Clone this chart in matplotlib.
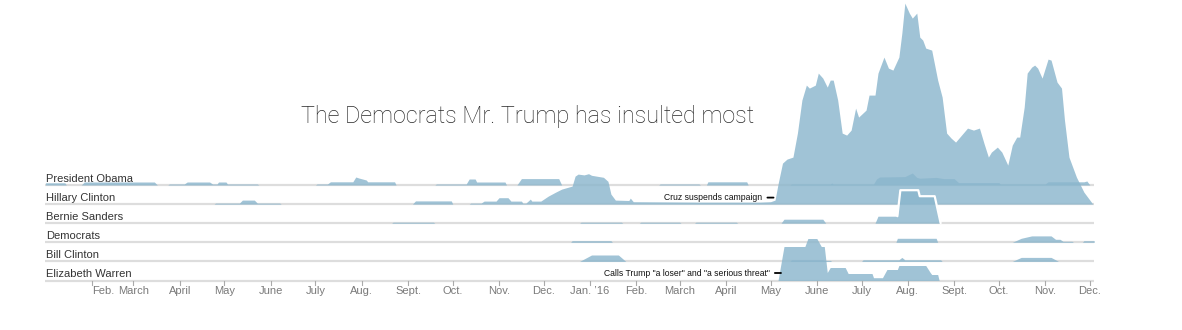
import matplotlib
matplotlib.use("Agg")
import matplotlib.pyplot as plt
import matplotlib.dates as mdates
import matplotlib.transforms as mtransforms
import pandas as pd
import numpy as np

plt.rcParams['font.family'] = ['Liberation Sans', 'DejaVu Sans']

# ---------------- data (insults, smoothed) ----------------
names = ["President Obama", "Hillary Clinton", "Bernie Sanders",
         "Democrats", "Bill Clinton", "Elizabeth Warren"]

obama = [("2015-01-01", 0.55), ("2015-01-14", 0.55), ("2015-01-15", 0), ("2015-01-25", 0),
         ("2015-01-27", 0.75), ("2015-03-15", 0.75), ("2015-03-17", 0), ("2015-03-24", 0),
         ("2015-03-25", 0.25), ("2015-04-04", 0.25), ("2015-04-06", 0.75), ("2015-04-21", 0.75),
         ("2015-04-23", 0.25), ("2015-04-26", 0.25), ("2015-04-27", 0.75), ("2015-05-02", 0.75),
         ("2015-05-03", 0.25), ("2015-05-23", 0.25), ("2015-05-24", 0), ("2015-07-01", 0),
         ("2015-07-02", 0.25), ("2015-07-09", 0.25), ("2015-07-11", 0.8), ("2015-07-26", 0.8),
         ("2015-07-28", 2.0), ("2015-07-30", 1.75), ("2015-08-04", 1.25), ("2015-08-05", 0.8),
         ("2015-08-23", 0.8), ("2015-08-24", 0), ("2015-09-19", 0), ("2015-09-20", 0.25),
         ("2015-10-10", 0.25), ("2015-10-12", 1.5), ("2015-10-16", 1.5), ("2015-10-17", 0.75),
         ("2015-11-05", 0.75), ("2015-11-06", 0), ("2015-11-13", 0), ("2015-11-16", 1.6),
         ("2015-12-11", 1.6), ("2015-12-13", 0), ("2016-02-16", 0), ("2016-02-17", 0.25),
         ("2016-03-14", 0.25), ("2016-03-15", 0), ("2016-03-19", 0), ("2016-03-20", 0.8),
         ("2016-04-15", 0.8), ("2016-04-16", 0), ("2016-05-14", 0), ("2016-05-15", 0.25),
         ("2016-06-10", 0.25), ("2016-06-11", 0.5), ("2016-06-12", 0.25), ("2016-07-09", 0.25),
         ("2016-07-11", 1.5), ("2016-07-13", 2.0), ("2016-07-30", 2.1), ("2016-08-04", 3.0),
         ("2016-08-07", 1.9), ("2016-08-09", 1.7), ("2016-08-20", 1.9), ("2016-08-25", 1.6),
         ("2016-09-01", 1.6), ("2016-09-04", 0.6), ("2016-10-01", 0.6), ("2016-10-02", 0.25),
         ("2016-11-01", 0.25), ("2016-11-03", 0.8), ("2016-11-27", 0.8), ("2016-11-29", 1.0),
         ("2016-12-01", 0)]

hillary = [("2015-04-24", 0), ("2015-04-25", 0.25), ("2015-05-11", 0.25), ("2015-05-13", 1.0),
           ("2015-05-21", 1.0), ("2015-05-23", 0.25), ("2015-06-07", 0.25), ("2015-06-08", 0),
           ("2015-09-04", 0), ("2015-09-06", 0.8), ("2015-09-30", 0.8), ("2015-10-01", 0),
           ("2015-10-12", 0), ("2015-10-13", 0.25), ("2015-10-20", 0.25), ("2015-10-22", 0.75),
           ("2015-10-30", 0.75), ("2015-11-01", 1.6), ("2015-11-07", 1.6), ("2015-11-09", 0.75),
           ("2015-11-16", 0.75), ("2015-11-17", 0.25), ("2015-11-19", 0.25), ("2015-11-22", 1.25),
           ("2015-11-23", 0.75), ("2015-11-29", 0.75), ("2015-12-04", 2.0), ("2015-12-09", 3.0),
           ("2015-12-13", 3.75), ("2015-12-20", 4.5), ("2015-12-22", 7.0), ("2015-12-24", 7.5),
           ("2015-12-28", 7.3), ("2015-12-31", 7.6), ("2016-01-02", 7.2), ("2016-01-10", 6.7),
           ("2016-01-13", 5.7), ("2016-01-15", 2.5), ("2016-01-18", 1.0), ("2016-01-27", 0.9),
           ("2016-01-28", 1.5), ("2016-01-30", 0.6), ("2016-03-14", 0.5), ("2016-04-24", 0.5),
           ("2016-05-01", 0.6), ("2016-05-04", 1.0), ("2016-05-06", 5.0), ("2016-05-09", 10.25),
           ("2016-05-12", 11.25), ("2016-05-16", 11.75), ("2016-05-19", 17.75), ("2016-05-22", 26.0),
           ("2016-05-25", 29.75), ("2016-05-27", 29.0), ("2016-05-31", 29.75), ("2016-06-02", 32.75),
           ("2016-06-05", 31.5), ("2016-06-08", 29.25), ("2016-06-10", 31.0), ("2016-06-12", 31.0),
           ("2016-06-15", 26.0), ("2016-06-18", 17.75), ("2016-06-21", 17.25), ("2016-06-24", 18.5),
           ("2016-06-27", 24.0), ("2016-06-29", 21.75), ("2016-07-04", 23.5), ("2016-07-06", 27.25),
           ("2016-07-10", 27.25), ("2016-07-12", 32.75), ("2016-07-16", 36.75), ("2016-07-19", 34.0),
           ("2016-07-22", 33.5), ("2016-07-26", 36.75), ("2016-07-28", 42.75), ("2016-07-30", 50.25),
           ("2016-08-02", 47.75), ("2016-08-04", 46.5), ("2016-08-07", 47.75), ("2016-08-09", 41.75),
           ("2016-08-11", 41.0), ("2016-08-13", 39.0), ("2016-08-17", 38.5), ("2016-08-21", 31.0),
           ("2016-08-24", 26.75), ("2016-08-27", 17.75), ("2016-08-30", 16.5), ("2016-09-02", 15.5),
           ("2016-09-06", 17.25), ("2016-09-10", 19.0), ("2016-09-14", 18.5), ("2016-09-18", 19.0),
           ("2016-09-21", 15.25), ("2016-09-24", 11.75), ("2016-09-26", 13.0), ("2016-09-30", 14.25),
           ("2016-10-03", 13.0), ("2016-10-07", 9.75), ("2016-10-10", 14.75), ("2016-10-13", 16.75),
           ("2016-10-15", 16.75), ("2016-10-18", 24.25), ("2016-10-20", 32.75), ("2016-10-23", 34.25),
           ("2016-10-25", 34.75), ("2016-10-27", 34.0), ("2016-10-30", 31.5), ("2016-11-03", 36.25),
           ("2016-11-05", 36.0), ("2016-11-09", 30.5), ("2016-11-12", 29.0), ("2016-11-14", 21.0),
           ("2016-11-17", 11.75), ("2016-11-22", 6.75), ("2016-11-27", 3.0), ("2016-12-01", 1.0),
           ("2016-12-03", 0)]

bernie = [("2015-08-21", 0), ("2015-08-22", 0.25), ("2015-09-18", 0.25), ("2015-09-19", 0),
          ("2015-12-25", 0), ("2015-12-26", 0.25), ("2016-01-22", 0.25), ("2016-01-23", 0),
          ("2016-02-03", 0), ("2016-02-04", 0.25), ("2016-03-01", 0.25), ("2016-03-02", 0),
          ("2016-03-11", 0), ("2016-03-12", 0.25), ("2016-04-08", 0.25), ("2016-04-09", 0),
          ("2016-05-08", 0), ("2016-05-10", 1.0), ("2016-06-05", 1.0), ("2016-06-07", 0),
          ("2016-07-10", 0), ("2016-07-12", 1.75), ("2016-07-25", 1.75), ("2016-07-27", 8.25),
          ("2016-08-08", 8.25), ("2016-08-09", 6.75), ("2016-08-19", 6.75), ("2016-08-23", 0)]

democrats = [("2015-12-19", 0), ("2015-12-20", 0.4), ("2016-01-15", 0.4), ("2016-01-16", 0),
             ("2016-07-24", 0), ("2016-07-25", 1.0), ("2016-08-20", 1.0), ("2016-08-21", 0),
             ("2016-10-10", 0), ("2016-10-16", 1.0), ("2016-10-23", 1.6), ("2016-11-05", 1.6),
             ("2016-11-08", 0.75), ("2016-11-11", 0.75), ("2016-11-13", 0.25), ("2016-11-19", 0.25),
             ("2016-11-20", 0), ("2016-11-26", 0), ("2016-11-27", 0.4), ("2016-12-04", 0.4)]

bill = [("2015-12-25", 0), ("2016-01-02", 1.6), ("2016-01-20", 1.6), ("2016-01-25", 0),
        ("2016-05-14", 0), ("2016-05-15", 0.4), ("2016-06-05", 0.4), ("2016-06-06", 0.25),
        ("2016-06-10", 0.25), ("2016-06-11", 0), ("2016-07-01", 0), ("2016-07-02", 0.4),
        ("2016-07-26", 0.4), ("2016-07-28", 1.0), ("2016-07-30", 0.4), ("2016-08-23", 0.4),
        ("2016-08-24", 0), ("2016-10-10", 0), ("2016-10-16", 1.0), ("2016-11-05", 1.0),
        ("2016-11-10", 0)]

warren = [("2016-05-06", 0), ("2016-05-10", 8.5), ("2016-05-24", 8.5), ("2016-05-26", 10.5),
          ("2016-06-01", 10.5), ("2016-06-04", 8.5), ("2016-06-06", 8.5), ("2016-06-08", 2.0),
          ("2016-06-10", 3.25), ("2016-06-20", 3.25), ("2016-06-22", 1.75), ("2016-07-08", 1.75),
          ("2016-07-09", 0.7), ("2016-07-15", 0.7), ("2016-07-18", 2.75), ("2016-07-25", 2.75),
          ("2016-07-26", 3.75), ("2016-08-13", 3.75), ("2016-08-16", 2.0), ("2016-08-17", 1.5),
          ("2016-08-21", 1.5), ("2016-08-22", 0)]

series = [obama, hillary, bernie, democrats, bill, warren]
highlight = ("Bernie Sanders", "2016-07-25", "2016-08-23")

month_ticks = pd.date_range("2015-02-01", "2016-12-01", freq="MS")
month_labels = ["Feb.", "March", "April", "May", "June", "July", "Aug.", "Sept.", "Oct.",
                "Nov.", "Dec.", "Jan. \u201916", "Feb.", "March", "April", "May", "June",
                "July", "Aug.", "Sept.", "Oct.", "Nov.", "Dec."]

annotations = [("Hillary Clinton", "2016-05-03", "Cruz suspends campaign"),
               ("Elizabeth Warren", "2016-05-08", 'Calls Trump "a loser" and "a serious threat"')]

start, end = pd.Timestamp("2015-01-01"), pd.Timestamp("2016-12-04")

# ---------------- layout ----------------
W, H = 1182, 330
fig = plt.figure(figsize=(W / 100, H / 100), dpi=100)
ax = fig.add_axes([0, 0, 1, 1])
ax.set_axis_off()

px_per_day = 1.492
x_feb = mdates.date2num(pd.Timestamp("2015-02-01"))
x0 = x_feb - 91.7 / px_per_day
ax.set_xlim(x0, x0 + W / px_per_day)
ax.set_ylim(H, 0)

base0, step, scale = 185.0, 19.1, 4.0
fill_c = "#8bb6cd"
blend = mtransforms.blended_transform_factory(ax.transAxes, ax.transData)

for i, (name, s) in enumerate(zip(names, series)):
    base = base0 + i * step
    d = pd.to_datetime([p[0] for p in s])
    v = np.array([p[1] for p in s], dtype=float)
    ax.plot([start, end], [base, base], color="#dddddd", lw=1.6,
            solid_capstyle="butt", zorder=2 * i + 1)
    ax.fill_between(d, base, base - v * scale, color=fill_c, alpha=0.82,
                    linewidth=0, zorder=2 * i + 2)
    if name == highlight[0]:
        m = (d >= pd.Timestamp(highlight[1])) & (d <= pd.Timestamp(highlight[2]))
        ax.plot(d[m], base - v[m] * scale, color="white", lw=1.6, zorder=2 * i + 2.5,
                solid_joinstyle="round", solid_capstyle="round")
    ax.text(46 / W, base - 3.2, name, transform=blend, fontsize=8, color="#333333",
            ha="left", va="baseline", zorder=50)

# month ticks and labels
tick_top = base0 + 5 * step + 0.5
for k, (t, lab) in enumerate(zip(month_ticks, month_labels)):
    ax.plot([t, t], [tick_top, tick_top + 3.5], color="#aaaaaa", lw=0.8, zorder=20)
    ax.text(t, 291.5, lab, fontsize=8, color="#7a7a7a",
            ha="left" if k == 0 else "center", va="center")

# annotations
for row, date, txt in annotations:
    base = base0 + names.index(row) * step
    y = base - 6.5 if row == "Hillary Clinton" else base - 7.5
    ax.annotate(txt, xy=(pd.Timestamp(date), y), xytext=(-11, 0),
                textcoords="offset pixels", ha="right", va="center",
                fontsize=6.2, color="#111111", zorder=60,
                arrowprops=dict(arrowstyle="-", color="black", lw=1.3,
                                shrinkA=1.5, shrinkB=0))

fig.text(301 / W, 1 - 123.3 / H, "The Democrats Mr. Trump has insulted most",
         fontsize=16.8, family=["Roboto", "DejaVu Sans"], fontweight="light",
         color="#2a2a2a", ha="left", va="baseline")

fig.savefig("out.png", dpi=100)
